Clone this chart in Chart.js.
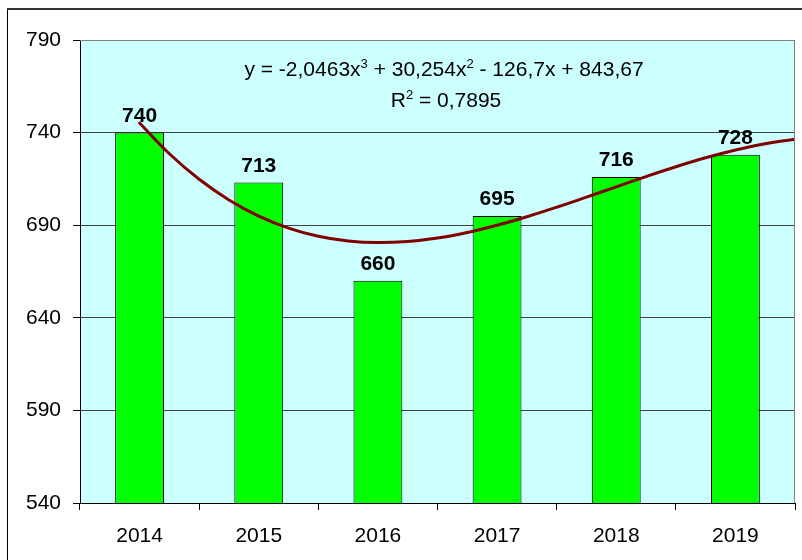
<!DOCTYPE html>
<html>
<head>
<meta charset="utf-8">
<script src="https://cdn.jsdelivr.net/npm/chart.js@4.4.1/dist/chart.umd.min.js"></script>
<style>
  html, body { margin: 0; padding: 0; background: #ffffff; }
  #wrap { width: 802px; height: 560px; position: relative; }
</style>
</head>
<body>
<div id="wrap"><canvas id="c" width="802" height="560"></canvas></div>
<script>
// Annual values
const years = ['2014', '2015', '2016', '2017', '2018', '2019'];
const values = [740, 713, 660, 695, 716, 728];

// Y axis range and tick step
const yMin = 540;
const yMax = 790;
const yStep = 50;

// Polynomial trend line: position along the category axis (0 = 2014) and level
const trendX = [0, 0.25, 0.5, 0.75, 1, 1.25, 1.5, 1.75, 2, 2.25, 2.5, 2.75,
                3, 3.25, 3.5, 3.75, 4, 4.25, 4.5, 4.75, 5, 5.25, 5.5];
const trendY = [745.18, 728.57, 714.78, 703.63, 694.92, 688.45, 684.04, 681.49,
                680.61, 681.21, 683.09, 686.08, 689.97, 694.57, 699.69, 705.15,
                710.73, 716.27, 721.55, 726.40, 730.61, 734.01, 736.39];

// Trend equation text
const eqParts = [['y = -2,0463x', ''], ['3', 'sup'], [' + 30,254x', ''], ['2', 'sup'], [' - 126,7x + 843,67', '']];
const r2Parts = [['R', ''], ['2', 'sup'], [' = 0,7895', '']];

const FONT = 'Arial, "Liberation Sans", sans-serif';
const FS = 21;

const framePlugin = {
  id: 'frame',
  beforeDraw(chart) {
    const { ctx, chartArea: a } = chart;
    ctx.save();
    ctx.fillStyle = '#ccffff';
    ctx.fillRect(a.left, a.top, a.right - a.left, a.bottom - a.top);
    ctx.restore();
  },
  afterDraw(chart) {
    const { ctx, chartArea: a } = chart;
    ctx.save();
    // plot outline (top and right)
    ctx.strokeStyle = '#808080';
    ctx.lineWidth = 1;
    ctx.beginPath();
    ctx.moveTo(a.left, a.top + 0.5);
    ctx.lineTo(a.right - 0.5, a.top + 0.5);
    ctx.lineTo(a.right - 0.5, a.bottom);
    ctx.stroke();
    // outer chart border
    ctx.strokeStyle = '#000000';
    ctx.lineWidth = 1;
    ctx.beginPath();
    ctx.moveTo(7.5, 570);
    ctx.lineTo(7.5, 9);
    ctx.stroke();
    ctx.strokeStyle = '#333333';
    ctx.lineWidth = 2;
    ctx.beginPath();
    ctx.moveTo(7, 9);
    ctx.lineTo(810, 9);
    ctx.stroke();
    ctx.restore();
  }
};

function drawParts(ctx, parts, cx, y, size) {
  const supSize = Math.round(size * 0.6);
  let total = 0;
  parts.forEach(([t, k]) => {
    ctx.font = (k === 'sup' ? supSize : size) + 'px ' + FONT;
    total += ctx.measureText(t).width;
  });
  let x = cx - total / 2;
  parts.forEach(([t, k]) => {
    ctx.font = (k === 'sup' ? supSize : size) + 'px ' + FONT;
    ctx.fillText(t, x, k === 'sup' ? y - size * 0.4 : y);
    x += ctx.measureText(t).width;
  });
}

const labelPlugin = {
  id: 'labels',
  afterDatasetsDraw(chart) {
    const { ctx } = chart;
    ctx.save();
    ctx.fillStyle = '#000000';
    ctx.textAlign = 'center';
    ctx.textBaseline = 'alphabetic';
    ctx.font = 'bold ' + FS + 'px ' + FONT;
    const meta = chart.getDatasetMeta(1);
    meta.data.forEach((bar, i) => {
      ctx.fillText(String(values[i]), bar.x, bar.y - 11);
    });
    ctx.textAlign = 'left';
    drawParts(ctx, eqParts, 444, 76, FS);
    drawParts(ctx, r2Parts, 446, 107, FS);
    ctx.restore();
  }
};

new Chart(document.getElementById('c'), {
  data: {
    labels: years,
    datasets: [
      {
        type: 'line',
        data: trendX.map((x, i) => ({ x: x, y: trendY[i] })),
        xAxisID: 'xt',
        borderColor: '#800000',
        borderWidth: 3,
        borderCapStyle: 'round',
        pointRadius: 0,
        tension: 0.4,
        fill: false,
        order: 0
      },
      {
        type: 'bar',
        data: values,
        xAxisID: 'x',
        backgroundColor: '#00ff00',
        borderColor: '#000000',
        borderWidth: 1,
        grouped: false,
        barPercentage: 0.41,
        categoryPercentage: 1,
        order: 1
      }
    ]
  },
  options: {
    responsive: false,
    animation: false,
    devicePixelRatio: 1,
    layout: { padding: { left: 0, right: 7, top: 40, bottom: 0 } },
    plugins: { legend: { display: false }, tooltip: { enabled: false } },
    scales: {
      x: {
        type: 'category',
        position: 'bottom',
        offset: true,
        grid: { display: true, offset: true, drawOnChartArea: false, drawTicks: true, tickLength: 7, color: '#000000' },
        border: { display: true, color: '#000000', width: 1 },
        ticks: { color: '#000000', font: { family: FONT, size: FS }, padding: 14, maxRotation: 0 },
        afterFit(s) { s.height = 57; }
      },
      xt: {
        type: 'linear',
        display: false,
        min: -0.5,
        max: 5.5
      },
      y: {
        min: yMin,
        max: yMax,
        grid: { color: '#404040', lineWidth: 1, tickLength: 7, tickColor: '#000000' },
        border: { display: true, color: '#000000', width: 1 },
        ticks: { stepSize: yStep, color: '#000000', font: { family: FONT, size: FS }, padding: 12 },
        afterFit(s) { s.width = 80; }
      }
    }
  },
  plugins: [framePlugin, labelPlugin]
});
</script>
</body>
</html>
